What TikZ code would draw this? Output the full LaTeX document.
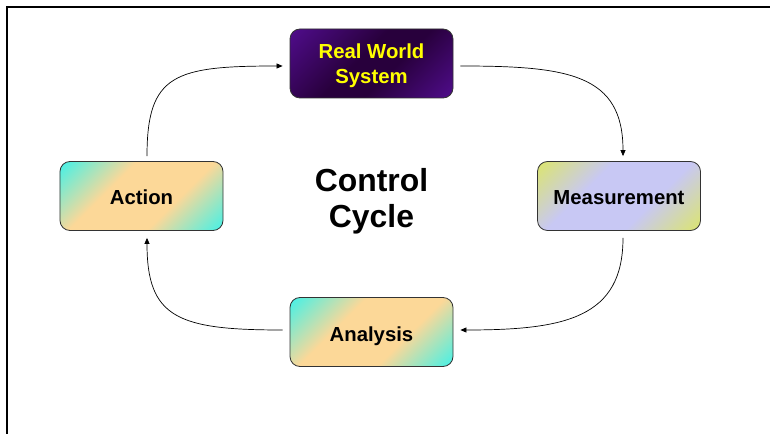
\documentclass[tikz,border=0pt]{standalone}
\usepackage{fontspec}
\setmainfont{Liberation Sans}
\usetikzlibrary{arrows.meta}

\definecolor{cyanc}{HTML}{3EF2EA}
\definecolor{peach}{HTML}{FCD898}
\definecolor{limec}{HTML}{DCE66A}
\definecolor{lavc}{HTML}{C8C8F4}
\definecolor{purplec}{HTML}{4E0C88}
\definecolor{darkpurp}{HTML}{28003C}
\definecolor{boxline}{HTML}{333333}
\definecolor{labelyellow}{HTML}{FFFF00}

% diagonal gradients: corner colour, middle band, corner colour
\pgfdeclarehorizontalshading{cyanpeach}{100bp}{color(0bp)=(cyanc); color(14bp)=(cyanc); color(38bp)=(peach); color(62bp)=(peach); color(86bp)=(cyanc); color(100bp)=(cyanc)}
\pgfdeclarehorizontalshading{limelav}{100bp}{color(0bp)=(limec); color(14bp)=(limec); color(38bp)=(lavc); color(62bp)=(lavc); color(86bp)=(limec); color(100bp)=(limec)}
\pgfdeclarehorizontalshading{purpshade}{100bp}{color(0bp)=(purplec); color(16bp)=(purplec); color(45bp)=(darkpurp); color(58bp)=(darkpurp); color(84bp)=(purplec); color(100bp)=(purplec)}

\tikzset{
  stagebox/.style={draw=boxline, line width=0.8bp, rounded corners=10bp,
    minimum width=163bp, minimum height=69bp, inner sep=0pt,
    shading angle=-45},
  stagetext/.style={font=\fontsize{20.4}{25}\selectfont\bfseries, align=center, inner sep=0pt},
  flow/.style={draw=black, line width=0.7bp, -{Triangle[length=6bp,width=5bp]}}
}

\begin{document}
\begin{tikzpicture}[x=1bp, y=-1bp]
  \useasboundingbox (0,0) rectangle (770,434);
  % outer frame
  \draw[line width=2bp] (7,434) -- (7,7) -- (770,7);

  % the four stages
  \node[stagebox, shading=purpshade] (rws) at (371.5,63.5) {};
  \node[stagebox, shading=cyanpeach] (act) at (141.5,196) {};
  \node[stagebox, shading=limelav] (meas) at (619,196) {};
  \node[stagebox, shading=cyanpeach] (ana) at (371.5,332) {};

  \node[stagetext, text=labelyellow] (rws-t) at ([yshift=-2bp]rws.center) {Real World\\System};
  \node[stagetext] (act-t) at ([yshift=-1bp]act.center) {Action};
  \node[stagetext] (meas-t) at ([yshift=-1.5bp]meas.center) {Measurement};
  \node[stagetext] (ana-t) at ([yshift=-4bp]ana.center) {Analysis};

  \node[font=\fontsize{32}{36}\selectfont\bfseries, align=center] (title) at (371.5,201.5) {Control\\Cycle};

  % connectors of the cycle
  \draw[flow] ([xshift=5.5bp,yshift=5bp]act.north) .. controls +(0,-82) and +(-108,0) .. ([xshift=-7bp,yshift=-2.5bp]rws.west);
  \draw[flow] ([xshift=7bp,yshift=-2.5bp]rws.east) .. controls +(108,0) and +(0,-82) .. ([xshift=4bp,yshift=5bp]meas.north);
  \draw[flow] ([xshift=4bp,yshift=-7bp]meas.south) .. controls +(0,80) and +(105,0) .. ([xshift=7bp,yshift=2bp]ana.east);
  \draw[flow] ([xshift=-7bp,yshift=2bp]ana.west) .. controls +(-105,0) and +(0,80) .. ([xshift=5.5bp,yshift=-7bp]act.south);
\end{tikzpicture}
\end{document}
